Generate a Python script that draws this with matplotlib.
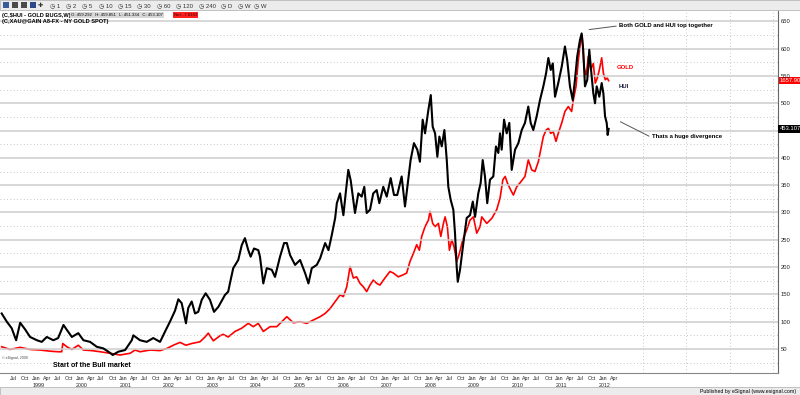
import pandas as pd
import matplotlib
matplotlib.use("Agg")
import matplotlib.pyplot as plt
import matplotlib.dates as mdates
from matplotlib.patches import Rectangle
from matplotlib.ticker import FixedLocator, MultipleLocator

plt.rcParams["font.family"] = ["Liberation Sans", "DejaVu Sans"]

# weekly HUI closes
HUI_DATES = [
    "1998-04-21", "1998-06-03", "1998-07-14", "1998-08-20", "1998-09-23", "1998-11-03", "1998-12-15",
    "1999-02-10", "1999-03-23", "1999-05-04", "1999-06-28", "1999-08-07", "1999-09-21", "1999-10-19", "1999-11-30",
    "2000-01-23", "2000-03-06", "2000-05-01", "2000-06-26", "2000-08-20", "2000-10-01", "2000-11-07", "2000-12-23",
    "2001-02-18", "2001-04-15", "2001-04-28", "2001-06-23", "2001-08-18", "2001-10-12", "2001-12-08",
    "2002-01-19", "2002-03-01", "2002-04-12", "2002-05-10", "2002-06-07", "2002-07-13", "2002-08-01", "2002-08-30",
    "2002-09-27", "2002-10-24", "2002-11-22", "2002-12-25",
    "2003-01-30", "2003-03-05", "2003-04-10", "2003-06-05", "2003-07-02", "2003-07-16", "2003-08-13", "2003-09-24",
    "2003-10-23", "2003-11-19", "2003-12-17",
    "2004-01-06", "2004-02-03", "2004-03-10", "2004-03-24", "2004-04-21", "2004-05-20", "2004-07-01", "2004-07-28",
    "2004-09-08", "2004-10-12", "2004-11-04", "2004-12-01",
    "2005-01-12", "2005-02-23", "2005-04-06", "2005-05-04", "2005-06-01", "2005-07-13", "2005-08-10", "2005-09-21",
    "2005-10-19", "2005-11-16", "2005-12-14", "2005-12-28",
    "2006-01-24", "2006-02-07", "2006-02-21", "2006-03-15", "2006-04-03", "2006-04-23", "2006-05-15", "2006-05-29",
    "2006-06-26", "2006-07-24", "2006-08-15", "2006-09-04", "2006-10-02", "2006-10-29", "2006-11-27", "2006-12-19",
    "2007-01-21", "2007-02-19", "2007-03-24", "2007-04-21", "2007-05-18", "2007-06-24", "2007-07-22", "2007-08-18",
    "2007-09-07", "2007-10-05", "2007-11-02", "2007-11-24", "2007-12-17",
    "2008-01-06", "2008-02-03", "2008-02-23", "2008-03-10", "2008-03-30", "2008-04-18", "2008-05-05", "2008-05-25",
    "2008-06-16", "2008-07-06", "2008-07-19", "2008-08-08", "2008-08-30", "2008-09-13", "2008-09-27", "2008-10-06",
    "2008-10-25", "2008-11-22", "2008-12-20",
    "2009-01-17", "2009-02-09", "2009-02-28", "2009-03-27", "2009-04-16", "2009-05-03", "2009-05-22", "2009-06-10",
    "2009-07-03", "2009-07-31", "2009-08-22", "2009-09-11", "2009-09-25", "2009-10-09", "2009-10-29", "2009-11-20",
    "2009-12-12",
    "2010-01-01", "2010-01-29", "2010-02-26", "2010-03-26", "2010-04-22", "2010-05-20", "2010-06-09", "2010-07-01",
    "2010-07-29", "2010-08-26", "2010-09-23", "2010-10-16", "2010-11-04", "2010-11-24", "2010-12-11", "2010-12-30",
    "2011-01-26", "2011-02-24", "2011-03-23", "2011-04-11", "2011-05-04", "2011-05-27", "2011-06-15", "2011-07-04",
    "2011-07-27", "2011-08-10", "2011-08-23", "2011-09-07", "2011-09-26", "2011-10-13", "2011-11-02", "2011-11-16",
    "2011-11-30", "2011-12-14",
    "2012-01-05", "2012-01-25", "2012-02-08", "2012-02-22", "2012-03-07", "2012-03-15", "2012-03-23",
]
HUI = [
    115, 100, 88, 66, 98, 86, 72,
    66, 63, 72, 66, 70, 94, 85, 72,
    79, 66, 63, 54, 51, 45, 39, 45,
    48, 66, 75, 66, 63, 70, 63,
    82, 100, 120, 141, 134, 97, 125, 137,
    115, 118, 140, 152,
    140, 118, 127, 149, 155, 170, 198, 213,
    240, 253, 231,
    219, 234, 231, 219, 170, 198, 195, 182,
    219, 244, 244, 222,
    204, 213, 189, 170, 198, 204, 216, 244,
    231, 259, 290, 317,
    335, 314, 295, 341, 378, 359, 323, 299,
    335, 329, 347, 299, 305, 335, 341, 317,
    347, 329, 363, 332, 332, 366, 311, 360,
    396, 427, 415, 393, 470,
    445, 488, 515, 457, 445, 402, 439, 421,
    451, 396, 347, 323, 305, 262, 201, 173,
    195, 244, 290,
    295, 320, 292, 335, 354, 396, 366, 317,
    360, 366, 421, 409, 445, 415, 470, 445,
    464,
    378, 415, 427, 451, 464, 494, 464, 451,
    476, 506, 531, 555, 583, 561, 573, 512,
    537, 567, 604, 579, 531, 506, 543, 586,
    616, 628, 598, 531, 543, 598, 549, 518,
    500, 531,
    512, 537, 518, 476, 464, 442, 453.107,
]

# NY gold spot, weekly
GOLD_DATES = [
    "1998-04-21", "1998-06-30", "1998-09-23", "1998-12-15",
    "1999-03-08", "1999-05-31", "1999-08-08", "1999-09-06", "1999-09-15", "1999-10-19", "1999-11-30",
    "2000-01-23", "2000-03-06", "2000-05-15", "2000-07-24", "2000-10-16",
    "2001-01-07", "2001-04-01", "2001-05-12", "2001-06-23", "2001-09-16", "2001-12-08",
    "2002-02-02", "2002-03-29", "2002-05-24", "2002-07-13", "2002-08-30", "2002-11-07", "2002-12-20",
    "2003-01-16", "2003-02-27", "2003-04-23", "2003-05-21", "2003-07-02", "2003-08-28", "2003-10-23", "2003-12-17",
    "2004-01-28", "2004-03-10", "2004-04-21", "2004-06-17", "2004-08-12", "2004-09-23", "2004-11-04", "2004-12-29",
    "2005-02-23", "2005-04-20", "2005-06-15", "2005-08-10", "2005-09-21", "2005-11-01", "2005-12-14",
    "2006-01-24", "2006-02-21", "2006-03-21", "2006-04-18", "2006-05-15", "2006-06-12", "2006-07-10", "2006-08-07",
    "2006-09-04", "2006-10-02", "2006-10-29", "2006-11-27", "2006-12-24",
    "2007-02-04", "2007-03-18", "2007-04-15", "2007-05-27", "2007-07-08", "2007-08-05", "2007-09-02", "2007-09-30",
    "2007-10-28", "2007-11-19", "2007-12-09",
    "2008-01-06", "2008-02-03", "2008-02-17", "2008-03-10", "2008-03-30", "2008-04-27", "2008-05-17", "2008-06-08",
    "2008-06-22", "2008-07-11", "2008-07-28", "2008-08-17", "2008-09-05", "2008-09-27", "2008-10-20", "2008-11-17",
    "2008-12-20",
    "2009-01-17", "2009-02-14", "2009-03-14", "2009-04-11", "2009-04-25", "2009-06-06", "2009-07-18", "2009-08-28",
    "2009-09-25", "2009-10-19", "2009-11-07", "2009-11-26", "2009-12-24",
    "2010-01-15", "2010-02-12", "2010-03-11", "2010-04-22", "2010-05-20", "2010-06-18", "2010-07-15", "2010-08-12",
    "2010-09-01", "2010-09-23", "2010-10-16", "2010-11-04", "2010-11-24", "2010-12-15",
    "2011-01-07", "2011-01-26", "2011-02-24", "2011-03-23", "2011-04-20", "2011-05-18", "2011-06-01", "2011-06-24",
    "2011-07-13", "2011-08-03", "2011-08-14", "2011-08-30", "2011-09-16", "2011-10-05", "2011-10-25", "2011-11-16",
    "2011-12-02", "2011-12-19",
    "2012-01-05", "2012-01-25", "2012-02-08", "2012-02-24", "2012-03-12", "2012-03-23",
]
GOLD = [
    269, 255, 266, 255,
    252, 246, 243, 243, 286, 269, 255,
    277, 252, 249, 243, 235,
    226, 235, 252, 243, 252, 249,
    260, 277, 292, 277, 286, 295, 320,
    340, 300, 326, 334, 320, 349, 366, 391,
    374, 391, 349, 374, 374, 400, 426, 394,
    400, 391, 409, 426, 443, 468, 505,
    540, 531, 582, 688, 628, 634, 600, 582,
    557, 591, 617, 600, 591,
    628, 662, 654, 634, 645, 654, 714, 756,
    802, 773, 845,
    896, 930, 976, 913, 896, 913, 845, 913,
    947, 896, 773, 828, 790, 714, 756, 828,
    879,
    930, 947, 862, 896, 947, 913, 939, 984,
    1044, 1141, 1158, 1124, 1087,
    1061, 1104, 1124, 1158, 1244, 1192, 1184, 1235,
    1298, 1366, 1400, 1409, 1383, 1392,
    1341, 1383, 1437, 1497, 1523, 1497, 1557, 1628,
    1765, 1871, 1896, 1731, 1680, 1785, 1714, 1748,
    1645, 1671,
    1714, 1777, 1697, 1663, 1671, 1657.90,
]

HUI_RANGE = (6, 669)
# eSignal overlays gold on its own scale: gold = GOLD_SCALE * hui + GOLD_OFFSET
GOLD_SCALE = 2.85
GOLD_OFFSET = 115
X_RANGE = ("1998-04-07", "2016-02-10")
TOOLBAR = ["1", "2", "5", "10", "15", "30", "60", "120", "240", "D", "W", "W"]

W, H = 800, 395


def px(x, y):
    # pixel position in the screenshot -> figure fraction
    return x / W, 1 - y / H


hui = pd.Series(HUI, index=pd.to_datetime(HUI_DATES))
gold = pd.Series(GOLD, index=pd.to_datetime(GOLD_DATES))

fig = plt.figure(figsize=(8, 3.95), dpi=100)
ax = fig.add_axes([0, 22 / H, 778 / W, 362 / H])
ax2 = ax.twinx()

ax.set_ylim(*HUI_RANGE)
ax2.set_ylim(GOLD_SCALE * HUI_RANGE[0] + GOLD_OFFSET, GOLD_SCALE * HUI_RANGE[1] + GOLD_OFFSET)
ax.set_xlim(pd.Timestamp(X_RANGE[0]), pd.Timestamp(X_RANGE[1]))

ax2.plot(gold.index, gold.values, color="#ff0000", linewidth=1.2, zorder=3)
ax.plot(hui.index, hui.values, color="black", linewidth=1.5, zorder=4)
ax.set_zorder(ax2.get_zorder() + 1)
ax.patch.set_visible(False)

# y axis on the right, solid grid every 50, dotted in between
ax.yaxis.tick_right()
ax.yaxis.set_minor_locator(MultipleLocator(25))
yticks = list(range(50, 651, 50))
ax.set_yticks(yticks)
# the last-value tag sits on top of the tick nearest to it
ax.set_yticklabels(["" if abs(v - HUI[-1]) < 10 else str(v) for v in yticks])
ax.tick_params(axis="y", which="both", length=0, pad=2, labelsize=4.2, labelcolor="#222222")
ax.grid(axis="y", which="major", color="#cdcdcd", linewidth=1.1)
ax.grid(axis="y", which="minor", color="#b4b4b4", linewidth=0.6, linestyle=(0, (1, 3)))
ax2.set_yticks([])

# x axis: quarter labels, year under January, dotted line at each January
quarters = pd.date_range("1998-07-01", "2012-04-01", freq="QS-JAN")
ax.xaxis.set_major_locator(FixedLocator(mdates.date2num(quarters)))
ax.set_xticklabels([d.strftime("%b") + (f"\n{d.year}" if d.month == 1 else "") for d in quarters],
                   ha="left", fontsize=3.8, color="#222222", linespacing=1.6)
ax.xaxis.set_minor_locator(mdates.YearLocator(1, month=1, day=1))
ax.tick_params(axis="x", which="both", length=0, pad=2)
ax.grid(axis="x", which="minor", color="#b4b4b4", linewidth=0.6, linestyle=(0, (1, 3)))

for side in ("left", "top"):
    ax.spines[side].set_visible(False)
    ax2.spines[side].set_visible(False)
ax.spines["bottom"].set_color("#888888")
ax.spines["right"].set_color("#666666")
ax2.spines["bottom"].set_visible(False)
ax2.spines["right"].set_visible(False)

# last value tags on the price axis
ax2.annotate(f"{GOLD[-1]:.2f}", xy=(1.0, GOLD[-1]), xycoords=("axes fraction", "data"),
             xytext=(1, 0), textcoords="offset points", ha="left", va="center",
             fontsize=4.2, color="white", annotation_clip=False,
             bbox=dict(boxstyle="square,pad=0.2", fc="#ff0000", ec="none"))
ax.annotate(f"{HUI[-1]:.3f}", xy=(1.0, HUI[-1]), xycoords=("axes fraction", "data"),
            xytext=(1, 0), textcoords="offset points", ha="left", va="center",
            fontsize=4.2, color="white", annotation_clip=False,
            bbox=dict(boxstyle="square,pad=0.2", fc="black", ec="none"))

# series names and comments
ax.text(pd.Timestamp("2012-06-01"), 565, "GOLD", color="#ff0000", fontsize=4.3, fontweight="bold", va="center")
ax.text(pd.Timestamp("2012-06-12"), 530, "HUI", color="#1a1a3a", fontsize=4.3, fontweight="bold", va="center")
ax.annotate("Both GOLD and HUI top together", xy=(pd.Timestamp("2011-09-07"), 634),
            xytext=(pd.Timestamp("2012-06-18"), 642), fontsize=4.3, fontweight="bold",
            ha="left", va="center",
            arrowprops=dict(arrowstyle="-", color="#555555", lw=0.7, relpos=(0, 0.5), shrinkA=0, shrinkB=3))
ax.annotate("Thats a huge divergence", xy=(pd.Timestamp("2012-04-28"), 473),
            xytext=(pd.Timestamp("2013-03-20"), 439), fontsize=4.3, fontweight="bold",
            ha="left", va="center",
            arrowprops=dict(arrowstyle="-", color="#555555", lw=0.7, relpos=(0, 0.3), shrinkA=0, shrinkB=6))
ax.text(pd.Timestamp("1999-06-25"), 19, "Start of the Bull market", fontsize=5, fontweight="bold", va="center")
ax.text(pd.Timestamp("1998-04-25"), 33, "\u00a9 eSignal, 2009", fontsize=2.6, color="#444444", va="center")

# eSignal window chrome: toolbar, study titles, status bar
fig.patches.append(Rectangle((0, 1 - 10 / H), 1, 10 / H, transform=fig.transFigure,
                             fc="#ececec", ec="#b8b8b8", lw=0.6))
fig.patches.append(Rectangle((0, 0), 1, 8 / H, transform=fig.transFigure,
                             fc="#ececec", ec="#b8b8b8", lw=0.6))
for i, c in enumerate(["#3a5a9a", "#4a4a4a", "#4a4a4a", "#2a4a8a"]):
    fig.patches.append(Rectangle(px(3 + i * 9, 8), 6 / W, 6 / H, transform=fig.transFigure,
                                 fc=c, ec="none"))
fig.text(*px(38, 5.5), "\u271a", fontsize=4.5, va="center", color="#333333")
x0 = 50
for name in TOOLBAR:
    fig.text(*px(x0, 5.5), "\u25f7 " + name, fontsize=4.3, va="center", color="#333333")
    x0 += 13 + 3.2 * len(name)

fig.text(*px(2, 15), "(C,$HUI - GOLD BUGS,W)", fontsize=4.1, fontweight="bold", va="center")
fig.text(*px(71, 15), "O: 459.292   H: 459.851   L: 451.334   C: 453.107", fontsize=3.1, va="center",
         bbox=dict(boxstyle="square,pad=0.25", fc="#d8d8d8", ec="none"))
fig.text(*px(174, 15), "Net: -7.8163", fontsize=3.1, va="center", color="#330000",
         bbox=dict(boxstyle="square,pad=0.25", fc="#ff2020", ec="none"))
fig.text(*px(2, 22), "(C,XAU@GAIN A8-FX - NY GOLD SPOT)", fontsize=4.1, fontweight="bold", va="center")
fig.text(*px(796, 391.5), "Published by eSignal (www.esignal.com)", fontsize=3.8, ha="right", va="center")

fig.savefig("out.png", dpi=100)
